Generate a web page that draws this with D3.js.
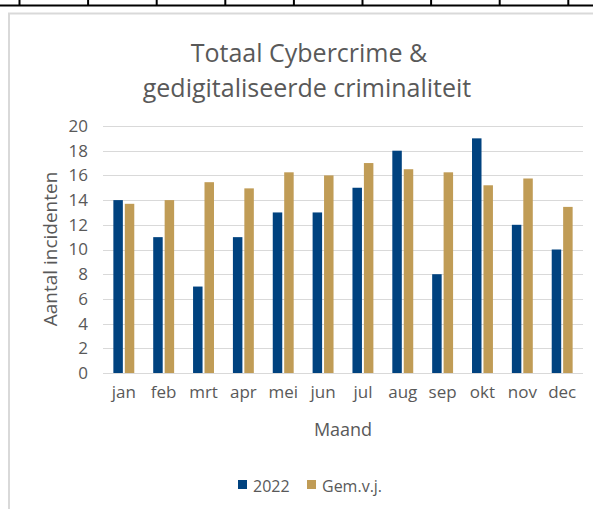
<!DOCTYPE html>
<html lang="nl">
<head>
<meta charset="utf-8">
<title>Totaal Cybercrime</title>
<script src="https://cdn.jsdelivr.net/npm/d3@7"></script>
<style>
  html, body { margin: 0; padding: 0; background: #fff; }
  svg { display: block; font-family: "Open Sans", sans-serif; }
</style>
</head>
<body>
<script>
// data
var months = ["jan", "feb", "mrt", "apr", "mei", "jun", "jul", "aug", "sep", "okt", "nov", "dec"];
var values2022 = [14, 11, 7, 11, 13, 13, 15, 18, 8, 19, 12, 10];
var valuesGem = [13.7, 14, 15.45, 14.95, 16.25, 16, 17, 16.5, 16.25, 15.2, 15.75, 13.45];
var seriesNames = ["2022", "Gem.v.j."];
var yTicks = [0, 2, 4, 6, 8, 10, 12, 14, 16, 18, 20];

var colors = ["#00427f", "#c09c56"];
var textColor = "#595959";

var W = 593, H = 509;
var svg = d3.select("body").append("svg")
    .attr("width", W)
    .attr("height", H);

// spreadsheet cell borders above the chart
svg.append("line")
    .attr("x1", 0).attr("x2", W)
    .attr("y1", 5.5).attr("y2", 5.5)
    .attr("stroke", "#000").attr("stroke-width", 2);
svg.selectAll("line.cell")
    .data(d3.range(9))
  .enter().append("line")
    .attr("class", "cell")
    .attr("x1", function(d){ return 19.5 + d * 68.6; })
    .attr("x2", function(d){ return 19.5 + d * 68.6; })
    .attr("y1", 0).attr("y2", 6)
    .attr("stroke", "#000").attr("stroke-width", 2);

// chart area border
svg.append("rect")
    .attr("x", 9).attr("y", 13.5)
    .attr("width", 700).attr("height", 600)
    .attr("fill", "#fff")
    .attr("stroke", "#d9d9d9").attr("stroke-width", 2);

// title
var title = svg.append("text")
    .attr("text-anchor", "middle")
    .attr("fill", textColor)
    .style("font-size", "25px");
title.append("tspan").attr("x", 309).attr("y", 62).text("Totaal Cybercrime &");
title.append("tspan").attr("x", 307).attr("y", 97).text("gedigitaliseerde criminaliteit");

var plot = { left: 103, right: 583, top: 126, bottom: 373 };

var x0 = d3.scaleBand()
    .domain(months)
    .range([plot.left, plot.right])
    .paddingInner(0.475)
    .paddingOuter(0.26);

var x1 = d3.scaleBand()
    .domain(seriesNames)
    .range([0, x0.bandwidth()])
    .paddingInner(0.17);

var y = d3.scaleLinear()
    .domain([0, 20])
    .range([plot.bottom, plot.top]);

// gridlines
svg.append("g")
    .selectAll("line")
    .data(yTicks)
  .enter().append("line")
    .attr("x1", plot.left).attr("x2", plot.right)
    .attr("y1", function(d){ return Math.round(y(d)) + 0.5; })
    .attr("y2", function(d){ return Math.round(y(d)) + 0.5; })
    .attr("stroke", "#d9d9d9")
    .attr("stroke-width", 1);

// y axis labels
var yAxis = d3.axisLeft(y).tickValues(yTicks).tickSize(0).tickPadding(15);
var gy = svg.append("g")
    .attr("transform", "translate(" + plot.left + ",0)")
    .call(yAxis);
gy.select(".domain").remove();
gy.selectAll("text")
    .attr("fill", textColor)
    .style("font-family", "Open Sans")
    .style("font-size", "17px");

// x axis labels
var xAxis = d3.axisBottom(x0).tickSize(0).tickPadding(13);
var gx = svg.append("g")
    .attr("transform", "translate(0," + plot.bottom + ")")
    .call(xAxis);
gx.select(".domain").remove();
gx.selectAll("text")
    .attr("fill", textColor)
    .style("font-family", "Open Sans")
    .style("font-size", "17px");

// bars
var rows = months.map(function(m, i){
  return { month: m, vals: [
    { name: seriesNames[0], v: values2022[i] },
    { name: seriesNames[1], v: valuesGem[i] }
  ]};
});

var groups = svg.append("g")
    .selectAll("g")
    .data(rows)
  .enter().append("g")
    .attr("transform", function(d){ return "translate(" + x0(d.month) + ",0)"; });

groups.selectAll("rect")
    .data(function(d){ return d.vals; })
  .enter().append("rect")
    .attr("x", function(d){ return x1(d.name); })
    .attr("y", function(d){ return y(d.v); })
    .attr("width", x1.bandwidth())
    .attr("height", function(d){ return y(0) - y(d.v); })
    .attr("fill", function(d, i){ return colors[i]; });

// axis titles
svg.append("text")
    .attr("transform", "translate(57,249) rotate(-90)")
    .attr("text-anchor", "middle")
    .attr("fill", textColor)
    .style("font-size", "19px")
    .text("Aantal incidenten");

svg.append("text")
    .attr("x", (plot.left + plot.right) / 2)
    .attr("y", 436)
    .attr("text-anchor", "middle")
    .attr("fill", textColor)
    .style("font-size", "18px")
    .text("Maand");

// legend
var legendX = [238, 307];
var legend = svg.append("g")
    .selectAll("g")
    .data(seriesNames)
  .enter().append("g")
    .attr("transform", function(d, i){ return "translate(" + legendX[i] + ",480)"; });
legend.append("rect")
    .attr("width", 9).attr("height", 9)
    .attr("fill", function(d, i){ return colors[i]; });
legend.append("text")
    .attr("x", 15).attr("y", 12)
    .attr("fill", textColor)
    .style("font-size", "16px")
    .text(function(d){ return d; });
</script>
</body>
</html>
